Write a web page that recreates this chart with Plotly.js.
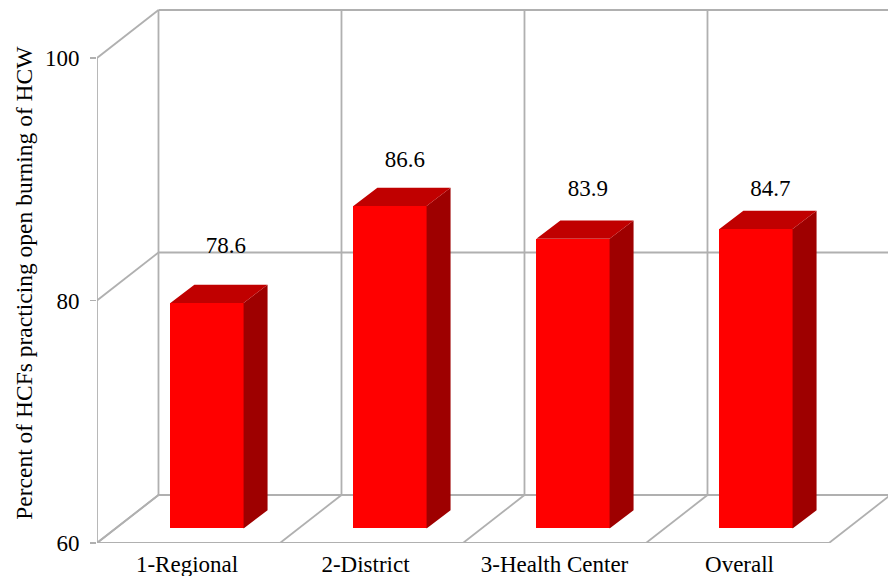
<!DOCTYPE html>
<html>
<head>
<meta charset="utf-8">
<script src="https://cdn.plot.ly/plotly-3.0.1.min.js"></script>
<style>html,body{margin:0;padding:0;background:#fff;overflow:hidden}</style>
</head>
<body>
<div id="chart" style="width:888px;height:576px"></div>
<script>
// Facilities and share practising open burning
const categories = ["1-Regional", "2-District", "3-Health Center", "Overall"];
const percentBurning = [78.6, 86.6, 83.9, 84.7];
const valueLabels = ["78.6", "86.6", "83.9", "84.7"];
const yTicks = [60, 80, 100];

// Extruded-box geometry, in axis units
const floorValue = 60;
const wallDx = 0.336, wallDy = 3.96;        // depth of the chart box
const frontDx = 0.601, frontLift = 1.2;     // bar front plane: centre and rise above the axis
const barWidth = 0.4;
const barDx = 0.131, barDy = 1.5;           // depth of each bar
const labelDx = [0.103, 0.082, 0.082, 0.079];
const labelLift = [4.62, 3.68, 4.03, 3.23];
const tickCenters = [0.492, 1.467, 2.5, 3.511];

const gridColor = "#B0B0B0";
const serif = "Liberation Serif, Times New Roman, serif";
const count = categories.length;

const centers = categories.map((_, i) => i + frontDx);
const barBase = floorValue + frontLift;
const tops = percentBurning.map(v => v + frontLift);

// Top and side faces as closed polygons, separated by gaps
const topX = [], topY = [], sideX = [], sideY = [];
centers.forEach((c, i) => {
  const l = c - barWidth / 2, r = c + barWidth / 2, t = tops[i];
  topX.push(l, r, r + barDx, l + barDx, l, null);
  topY.push(t, t, t + barDy, t + barDy, t, null);
  sideX.push(r, r + barDx, r + barDx, r, r, null);
  sideY.push(barBase, barBase + barDy, t + barDy, t, barBase, null);
});

// Box outline: walls, floor and gridlines sit behind every bar
const segment = (x0, y0, x1, y1) => ({
  type: "line", layer: "below", xref: "x", yref: "y", x0, y0, x1, y1,
  line: {color: gridColor, width: 1.8}
});
const shapes = [];
const xMax = 791 / 183;
yTicks.forEach(v => {
  shapes.push(segment(wallDx, v + wallDy, xMax, v + wallDy));
  shapes.push(segment(0, v, wallDx, v + wallDy));
});
for (let i = 0; i <= count; i++) {
  shapes.push(segment(i, floorValue, i + wallDx, floorValue + wallDy));
  if (i < count) shapes.push(segment(i + wallDx, floorValue + wallDy, i + wallDx, 100 + wallDy));
}
shapes.push(segment(0, floorValue, 0, 100));
shapes.push(segment(0, floorValue, count, floorValue));

const traces = [
  {type: "bar", x: centers, y: percentBurning.map(v => v - floorValue), base: barBase,
   width: barWidth, marker: {color: "#FF0000", line: {width: 0}}, hoverinfo: "skip"},
  {type: "scatter", mode: "lines", x: sideX, y: sideY, fill: "toself", fillcolor: "#9E0000",
   line: {width: 0, color: "#9E0000"}, hoverinfo: "skip"},
  {type: "scatter", mode: "lines", x: topX, y: topY, fill: "toself", fillcolor: "#C00000",
   line: {width: 0, color: "#C00000"}, hoverinfo: "skip"},
  {type: "scatter", mode: "text", x: centers.map((c, i) => c + labelDx[i]),
   y: tops.map((t, i) => t + labelLift[i]), text: valueLabels, textposition: "middle center",
   textfont: {family: serif, size: 23, color: "#000"}, cliponaxis: false, hoverinfo: "skip"}
];

const layout = {
  width: 888, height: 576, showlegend: false, bargap: 0,
  paper_bgcolor: "#fff", plot_bgcolor: "#fff",
  margin: {l: 97, r: 0, t: 0, b: 33, pad: 0},
  font: {family: serif, color: "#000", size: 23},
  xaxis: {range: [0, xMax], showgrid: false, zeroline: false, showline: false, ticks: "",
          tickmode: "array", tickvals: tickCenters, ticktext: categories,
          tickfont: {family: serif, size: 23, color: "#000"}, ticklabelstandoff: 5, automargin: false},
  yaxis: {range: [floorValue, floorValue + 543 / 12.125], showgrid: false, zeroline: false, showline: false,
          tickmode: "array", tickvals: yTicks, ticktext: yTicks.map(String),
          ticks: "outside", ticklen: 6, tickwidth: 1.8, tickcolor: gridColor,
          ticklabelstandoff: 6,
          tickfont: {family: serif, size: 23, color: "#000"}, automargin: false},
  shapes,
  annotations: [{
    text: "Percent of HCFs practicing open burning of HCW", textangle: -90,
    xref: "paper", yref: "paper", x: -0.0925, y: 0.479, xanchor: "center", yanchor: "middle",
    showarrow: false, font: {family: serif, size: 23.5, color: "#000"}
  }]
};

Plotly.newPlot("chart", traces, layout, {displayModeBar: false, staticPlot: true});
</script>
</body>
</html>
